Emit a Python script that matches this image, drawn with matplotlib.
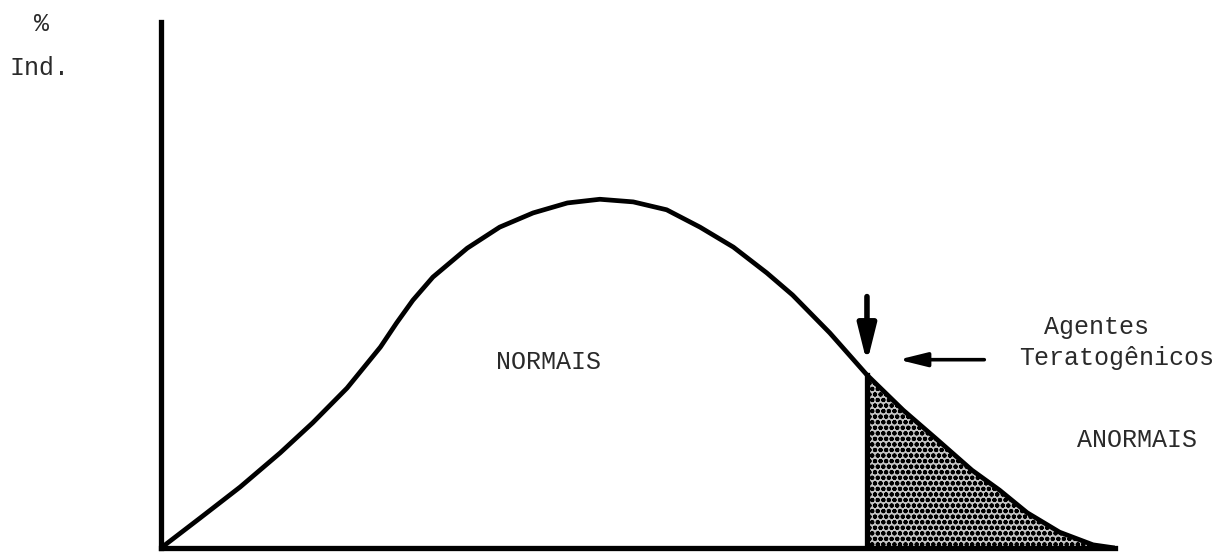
import matplotlib
matplotlib.use("Agg")
import matplotlib.pyplot as plt
import numpy as np

# curve (arbitrary units, x and y both 0..100)
curve_x = [0, 4.1, 8.3, 12.5, 15.9, 19.5, 23.0, 24.7, 26.4, 28.5, 32.1, 35.5,
           39.0, 42.6, 46.0, 49.5, 53.0, 56.5, 60.0, 63.5, 66.2, 70.1, 74.0,
           77.8, 81.3, 85.0, 87.9, 90.8, 94.2, 97.7, 100]
curve_y = [0, 5.7, 11.6, 18.1, 23.8, 30.4, 38.2, 42.8, 47.1, 51.5, 57.0, 61.0,
           63.7, 65.6, 66.3, 65.8, 64.3, 61.0, 57.2, 52.3, 48.1, 40.9, 32.9,
           26.2, 20.7, 14.8, 11.0, 6.7, 3.0, 0.6, 0]
threshold = 74.0

label_normal = "NORMAIS"
label_abnormal = "ANORMAIS"
label_agents = ["Agentes", "Teratogênicos"]
y_label = ["%", "Ind."]

font = "Liberation Mono"
txt_color = "#2a2a2a"

fig = plt.figure(figsize=(12.22, 5.54), dpi=100)
ax = fig.add_axes([161 / 1222, 6 / 554, 954 / 1222, 526 / 554])
ax.set_xlim(0, 100)
ax.set_ylim(0, 100)

x = np.array(curve_x)
y = np.array(curve_y)
ax.plot(x, y, color="black", lw=3.4, solid_capstyle="round",
        solid_joinstyle="round", zorder=3)

# shaded tail beyond the threshold
mask = x >= threshold
plt.rcParams["hatch.linewidth"] = 1.4
ax.fill_between(x[mask], 0, y[mask], facecolor="#c4c4c4", edgecolor="black",
                hatch="ooo", lw=0, zorder=1)
ax.plot([threshold, threshold], [0, y[x == threshold][0]], color="black",
        lw=3.8, zorder=3)

# arrows
ax.annotate("", xy=(threshold, 35.2), xytext=(threshold, 47.8),
            arrowprops=dict(arrowstyle="-|>,head_length=2.2,head_width=0.55",
                            color="black", lw=4, shrinkA=0, shrinkB=0))
ax.annotate("", xy=(77.3, 35.8), xytext=(86.3, 35.8),
            arrowprops=dict(arrowstyle="-|>,head_length=1.7,head_width=0.42",
                            color="black", lw=2.6, shrinkA=0, shrinkB=0))

ax.text(40.6, 35.4, label_normal, family=font, fontsize=18, color=txt_color,
        ha="center", va="center")
ax.text(102.3, 20.5, label_abnormal, family=font, fontsize=18, color=txt_color,
        ha="center", va="center", clip_on=False)
ax.text(98.1, 42.0, label_agents[0], family=font, fontsize=18, color=txt_color,
        ha="center", va="center", clip_on=False)
ax.text(100.2, 36.1, label_agents[1], family=font, fontsize=18,
        color=txt_color, ha="center", va="center", clip_on=False)

fig.text(42 / 1222, 1 - 24 / 554, y_label[0], family=font, fontsize=18,
         color=txt_color, ha="center", va="center")
fig.text(40 / 1222, 1 - 68 / 554, y_label[1], family=font, fontsize=18,
         color=txt_color, ha="center", va="center")

for side in ["top", "right"]:
    ax.spines[side].set_visible(False)
ax.spines["left"].set_linewidth(3.8)
ax.spines["bottom"].set_linewidth(3.8)
ax.set_xticks([])
ax.set_yticks([])

fig.savefig("out.png", dpi=100)
